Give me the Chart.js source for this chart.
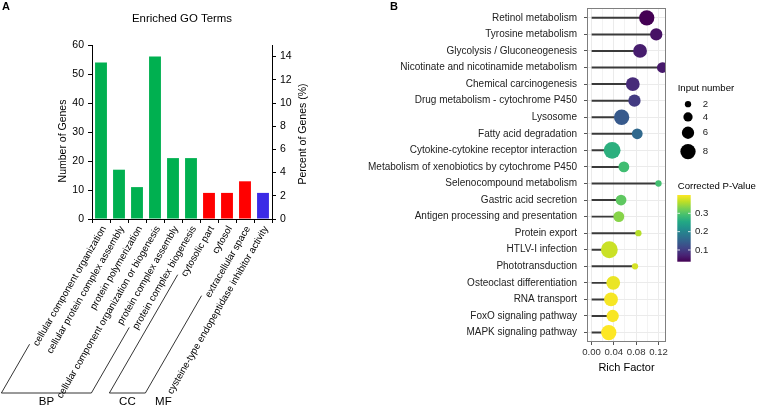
<!DOCTYPE html>
<html>
<head>
<meta charset="utf-8">
<script src="https://cdn.jsdelivr.net/npm/chart.js@4.4.1/dist/chart.umd.min.js"></script>
<style>
  html, body { margin: 0; padding: 0; background: #fff; }
  #wrap { position: relative; width: 758px; height: 407px; overflow: hidden; }
  #goChart { position: absolute; left: 0; top: 0; }
  #keggChart { position: absolute; left: 355px; top: 0; }
</style>
</head>
<body>
<div id="wrap">
  <canvas id="goChart" width="355" height="407"></canvas>
  <canvas id="keggChart" width="403" height="407"></canvas>
</div>
<script>
// ---- Panel A: enriched GO terms ----
const goTerms = [
  'cellular component organization',
  'cellular protein complex assembly',
  'protein polymerization',
  'cellular component organization or biogenesis',
  'protein complex assembly',
  'protein complex biogenesis',
  'cytosolic part',
  'cytosol',
  'extracellular space',
  'cysteine-type endopeptidase inhibitor activity'
];
const goCategory = ['BP', 'BP', 'BP', 'BP', 'BP', 'BP', 'CC', 'CC', 'CC', 'MF'];
const geneCounts = [54, 17, 11, 56, 21, 21, 9, 9, 13, 9];
const geneTicks = [0, 10, 20, 30, 40, 50, 60];
const percentTicks = [0, 2, 4, 6, 8, 10, 12, 14];

// ---- Panel B: KEGG pathway lollipop ----
const pathways = [
  'Retinol metabolism',
  'Tyrosine metabolism',
  'Glycolysis / Gluconeogenesis',
  'Nicotinate and nicotinamide metabolism',
  'Chemical carcinogenesis',
  'Drug metabolism - cytochrome P450',
  'Lysosome',
  'Fatty acid degradation',
  'Cytokine-cytokine receptor interaction',
  'Metabolism of xenobiotics by cytochrome P450',
  'Selenocompound metabolism',
  'Gastric acid secretion',
  'Antigen processing and presentation',
  'Protein export',
  'HTLV-I infection',
  'Phototransduction',
  'Osteoclast differentiation',
  'RNA transport',
  'FoxO signaling pathway',
  'MAPK signaling pathway'
];
const richFactor = [0.099, 0.116, 0.087, 0.127, 0.074, 0.077, 0.054, 0.082, 0.037, 0.058,
                    0.120, 0.053, 0.049, 0.084, 0.032, 0.078, 0.039, 0.035, 0.038, 0.031];
const inputNumber = [8, 6, 7, 5, 7, 6, 8, 5, 9, 5, 2, 5, 5, 2, 9, 2, 7, 7, 6, 8];
const correctedP = [0.036, 0.054, 0.065, 0.061, 0.080, 0.098, 0.138, 0.160, 0.265, 0.287,
                    0.290, 0.309, 0.334, 0.360, 0.371, 0.378, 0.389, 0.396, 0.397, 0.400];
const richTicks = [0, 0.02, 0.04, 0.06, 0.08, 0.10, 0.12];
const sizeBreaks = [2, 4, 6, 8];
const pBreaks = [0.1, 0.2, 0.3];

const FONT = "'Liberation Sans', Arial, sans-serif";
Chart.defaults.font.family = FONT;
Chart.defaults.color = '#000';

const catColors = { BP: '#00b050', CC: '#ff0000', MF: '#3b2be6' };

// viridis palette for the p-value colour scale
const viridisStops = ['#440154', '#482475', '#414487', '#355f8d', '#2a788e', '#21918c',
                      '#22a884', '#44bf70', '#7ad151', '#bddf26', '#fde725'];
function hexRgb(h) {
  return [1, 3, 5].map(k => parseInt(h.substr(k, 2), 16));
}
function viridis(t) {
  t = Math.max(0, Math.min(1, t));
  const f = t * 10, i = Math.min(9, Math.floor(f)), u = f - i;
  const a = hexRgb(viridisStops[i]), b = hexRgb(viridisStops[i + 1]);
  const c = a.map((v, k) => Math.round(v + (b[k] - v) * u));
  return `rgb(${c[0]},${c[1]},${c[2]})`;
}
const pMin = Math.min(...correctedP), pMax = Math.max(...correctedP);
const pColor = p => viridis((p - pMin) / (pMax - pMin));
const dotDiameter = n => 3.3 + 1.5 * n;

// ---------- panel A decorations: titles + BP/CC/MF brackets ----------
const goDecor = {
  id: 'goDecor',
  afterDraw(chart) {
    const { ctx, chartArea } = chart;
    ctx.save();
    ctx.fillStyle = '#000';
    ctx.textBaseline = 'middle';

    ctx.font = `bold 11px ${FONT}`;
    ctx.textAlign = 'left';
    ctx.fillText('A', 2, 7);

    ctx.font = `11.4px ${FONT}`;
    ctx.textAlign = 'center';
    ctx.fillText('Enriched GO Terms', (chartArea.left + chartArea.right) / 2, 19);

    ctx.font = `10.5px ${FONT}`;
    ctx.save();
    ctx.translate(63, 141);
    ctx.rotate(-Math.PI / 2);
    ctx.fillText('Number of Genes', 0, 0);
    ctx.restore();

    ctx.save();
    ctx.translate(303, 134);
    ctx.rotate(-Math.PI / 2);
    ctx.fillText('Percent of Genes (%)', 0, 0);
    ctx.restore();

    // brackets continue the slanted labels down to a common baseline
    const xs = chart.scales.x;
    const items = xs.getLabelItems();
    const legY = 393;
    const feet = items.map(it => {
      const [ax, ay] = it.options.translation;
      const rot = it.options.rotation;
      ctx.font = it.font.string;
      const w = ctx.measureText(it.label).width;
      const dx = -Math.cos(rot), dy = -Math.sin(rot);
      const sx = ax + dx * (w + 2), sy = ay + dy * (w + 2);
      const t = Math.max(0, (legY - sy) / dy);
      return { sx, sy, ex: sx + dx * t, ey: sy + dy * t, t };
    });
    ctx.strokeStyle = '#000';
    ctx.lineWidth = 0.8;
    ctx.font = `11.5px ${FONT}`;
    let start = 0;
    for (let i = 1; i <= goCategory.length; i++) {
      if (i < goCategory.length && goCategory[i] === goCategory[start]) continue;
      const a = feet[start], b = feet[i - 1];
      if (a !== b) {
        ctx.beginPath();
        if (a.t > 0) { ctx.moveTo(a.sx, a.sy); ctx.lineTo(a.ex, legY); }
        else ctx.moveTo(a.ex, legY);
        ctx.lineTo(b.ex, legY);
        if (b.t > 0) ctx.lineTo(b.sx, b.sy);
        ctx.stroke();
      }
      ctx.fillText(goCategory[start], (a.ex + b.ex) / 2, 402);
      start = i;
    }
    ctx.restore();
  }
};

new Chart(document.getElementById('goChart'), {
  type: 'bar',
  data: {
    labels: goTerms,
    datasets: [{
      data: geneCounts,
      backgroundColor: goCategory.map(c => catColors[c]),
      categoryPercentage: 1,
      barPercentage: 0.66
    }]
  },
  options: {
    responsive: false,
    animation: false,
    events: [],
    layout: { padding: { top: 45, left: 0, right: 0, bottom: 0 } },
    plugins: { legend: { display: false }, tooltip: { enabled: false } },
    scales: {
      x: {
        grid: { drawOnChartArea: false, tickLength: 4, tickColor: '#000', color: '#000' },
        border: { color: '#000', width: 1 },
        ticks: { autoSkip: false, minRotation: 60, maxRotation: 60, padding: 1, labelOffset: 3, font: { size: 9.7 }, color: '#000' },
        afterFit: s => { s.height = 188; s.paddingLeft = 0; s.paddingRight = 0; }
      },
      y: {
        position: 'left', min: 0, max: 60,
        afterBuildTicks: s => { s.ticks = geneTicks.map(v => ({ value: v })); },
        grid: { drawOnChartArea: false, tickLength: 4, tickColor: '#000' },
        border: { color: '#000', width: 1 },
        ticks: { padding: 4, font: { size: 10.5 }, color: '#000' },
        afterFit: s => { s.width = 92; s.paddingTop = 0; s.paddingBottom = 0; }
      },
      y2: {
        position: 'right', min: 0, max: 15,
        afterBuildTicks: s => { s.ticks = percentTicks.map(v => ({ value: v })); },
        grid: { drawOnChartArea: false, tickLength: 4, tickColor: '#000' },
        border: { color: '#000', width: 1 },
        ticks: { padding: 4, font: { size: 10.5 }, color: '#000' },
        afterFit: s => { s.width = 355 - 272; s.paddingTop = 0; s.paddingBottom = 0; }
      }
    }
  },
  plugins: [goDecor]
});

// ---------- panel B decorations: panel border + legends ----------
const keggDecor = {
  id: 'keggDecor',
  afterDraw(chart) {
    const { ctx, chartArea: ca } = chart;
    ctx.save();
    ctx.strokeStyle = '#7f7f7f';
    ctx.lineWidth = 1;
    ctx.strokeRect(Math.round(ca.left) + 0.5, Math.round(ca.top) + 0.5,
                   Math.round(ca.right - ca.left) - 1, Math.round(ca.bottom - ca.top) - 1);

    ctx.fillStyle = '#000';
    ctx.textBaseline = 'middle';
    ctx.textAlign = 'left';
    ctx.font = `bold 11px ${FONT}`;
    ctx.fillText('B', 35, 7);

    // size legend
    const lx = ca.right + 11.7;
    ctx.font = `9.6px ${FONT}`;
    ctx.fillText('Input number', lx, 88);
    let y = 98.5;
    sizeBreaks.forEach(n => {
      const d = dotDiameter(n);
      const h = d + 5;
      const cy = y + h / 2;
      ctx.beginPath();
      ctx.arc(lx + 10.3, cy, d / 2, 0, Math.PI * 2);
      ctx.fillStyle = '#000';
      ctx.fill();
      ctx.fillStyle = '#222';
      ctx.fillText(String(n), lx + 25, cy);
      y += h;
    });

    // colour bar
    ctx.fillStyle = '#000';
    ctx.fillText('Corrected P-Value', lx, 186);
    const bx = lx - 0.4, bw = 13.4, top = 195, bot = 261.7;
    const grad = ctx.createLinearGradient(0, bot, 0, top);
    viridisStops.forEach((c, i) => grad.addColorStop(i / (viridisStops.length - 1), c));
    ctx.fillStyle = grad;
    ctx.fillRect(bx, top, bw, bot - top);
    ctx.strokeStyle = '#fff';
    ctx.lineWidth = 0.8;
    pBreaks.forEach(p => {
      const py = bot - (p - pMin) / (pMax - pMin) * (bot - top);
      ctx.beginPath();
      ctx.moveTo(bx, py); ctx.lineTo(bx + 2.7, py);
      ctx.moveTo(bx + bw - 2.7, py); ctx.lineTo(bx + bw, py);
      ctx.stroke();
      ctx.fillStyle = '#222';
      ctx.fillText(p.toFixed(1), bx + 17.7, py);
    });
    ctx.restore();
  }
};

new Chart(document.getElementById('keggChart'), {
  type: 'bubble',
  data: {
    datasets: [
      {
        type: 'bubble',
        data: pathways.map((p, i) => ({ x: richFactor[i], y: i, r: dotDiameter(inputNumber[i]) / 2 })),
        backgroundColor: correctedP.map(pColor),
        borderWidth: 0,
        clip: 0
      },
      {
        type: 'bar',
        indexAxis: 'y',
        data: pathways.map((p, i) => ({ x: richFactor[i], y: i })),
        backgroundColor: '#3a3a3a',
        barThickness: 1.3
      }
    ]
  },
  options: {
    responsive: false,
    animation: false,
    events: [],
    layout: { padding: { top: 2, left: 0, right: 92, bottom: 0 } },
    plugins: { legend: { display: false }, tooltip: { enabled: false } },
    scales: {
      x: {
        type: 'linear', min: -0.008, max: 0.1335, offset: false,
        afterBuildTicks: s => { s.ticks = richTicks.map(v => ({ value: v })); },
        grid: {
          color: '#ebebeb',
          lineWidth: c => (c.index % 2 === 0 ? 1 : 0.6),
          tickLength: 3,
          tickColor: c => (c.index % 2 === 0 ? '#555' : 'rgba(0,0,0,0)')
        },
        border: { display: false },
        ticks: {
          callback: (v, i) => (i % 2 === 0 ? v.toFixed(2) : ''),
          font: { size: 9.6 }, color: '#333', padding: 2, maxRotation: 0, autoSkip: false
        },
        title: { display: true, text: 'Rich Factor', font: { size: 11 }, color: '#000', padding: { top: 0, bottom: 32 } },
        afterFit: s => { s.height = 65; s.paddingLeft = 0; s.paddingRight = 0; }
      },
      y: {
        type: 'linear', reverse: true, min: -0.57, max: 19.57, offset: false,
        afterBuildTicks: s => { s.ticks = pathways.map((p, i) => ({ value: i })); },
        grid: { color: '#ebebeb', lineWidth: 1, offset: false, tickLength: 3, tickColor: '#555' },
        border: { display: false },
        ticks: { callback: v => pathways[v], font: { size: 10 }, color: '#222', padding: 7, autoSkip: false },
        afterFit: s => { s.width = 232; s.paddingTop = 0; s.paddingBottom = 0; }
      }
    }
  },
  plugins: [keggDecor]
});
</script>
</body>
</html>
